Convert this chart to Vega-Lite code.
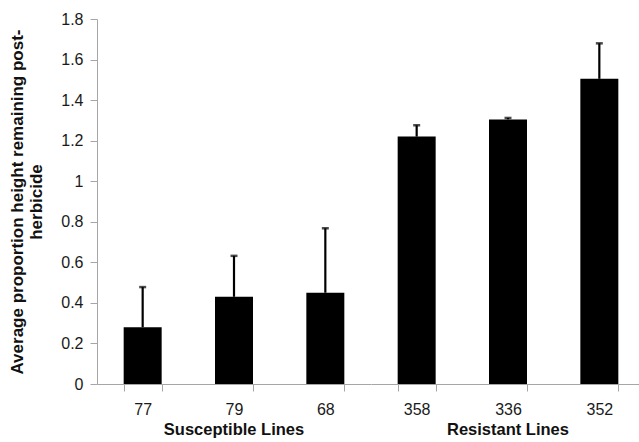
{
  "$schema": "https://vega.github.io/schema/vega-lite/v6.json",
  "padding": {"left": 8, "top": 11, "right": 0, "bottom": 0},
  "data": {
    "values": [
      {"line": "77", "group": "Susceptible Lines", "mean": 0.28, "upper": 0.478},
      {"line": "79", "group": "Susceptible Lines", "mean": 0.43, "upper": 0.632},
      {"line": "68", "group": "Susceptible Lines", "mean": 0.45, "upper": 0.768},
      {"line": "358", "group": "Resistant Lines", "mean": 1.22, "upper": 1.276},
      {"line": "336", "group": "Resistant Lines", "mean": 1.305, "upper": 1.312},
      {"line": "352", "group": "Resistant Lines", "mean": 1.505, "upper": 1.68}
    ]
  },
  "facet": {
    "column": {
      "field": "group",
      "type": "nominal",
      "sort": ["Susceptible Lines", "Resistant Lines"],
      "header": {
        "title": null,
        "labelOrient": "bottom",
        "labelFont": "Liberation Sans",
        "labelFontWeight": "bold",
        "labelFontSize": 16.5,
        "labelColor": "#111111",
        "labelPadding": 5
      }
    }
  },
  "spacing": 0,
  "resolve": {"scale": {"x": "independent"}},
  "spec": {
    "width": 274,
    "height": 365,
    "encoding": {
      "x": {
        "field": "line",
        "type": "nominal",
        "sort": null,
        "scale": {"paddingInner": 0.584, "paddingOuter": 0.292},
        "axis": {
          "title": null,
          "labelAngle": 0,
          "tickBand": "extent",
          "labelPadding": 10
        }
      }
    },
    "layer": [
      {
        "mark": {"type": "bar", "color": "#000000"},
        "encoding": {
          "y": {
            "field": "mean",
            "type": "quantitative",
            "scale": {"domain": [0, 1.8], "nice": false},
            "axis": {
              "values": [0, 0.2, 0.4, 0.6, 0.8, 1, 1.2, 1.4, 1.6, 1.8],
              "format": "~g",
              "grid": false,
              "title": ["Average proportion height remaining post-", "herbicide"],
              "titleFontWeight": "bold",
              "titleFontSize": 17,
              "titleColor": "#111111",
              "titlePadding": 15,
              "labelPadding": 7
            }
          }
        }
      },
      {
        "mark": {"type": "rule", "color": "#000000", "strokeWidth": 2.2},
        "encoding": {
          "y": {"field": "mean", "type": "quantitative"},
          "y2": {"field": "upper"}
        }
      },
      {
        "mark": {"type": "tick", "color": "#000000", "size": 7, "thickness": 2.5},
        "encoding": {
          "y": {"field": "upper", "type": "quantitative"}
        }
      }
    ]
  },
  "config": {
    "font": "Liberation Sans",
    "view": {"stroke": null},
    "axis": {
      "domainColor": "#a6a6a6",
      "tickColor": "#a6a6a6",
      "tickSize": 7,
      "labelFont": "Liberation Sans",
      "labelFontSize": 16,
      "labelColor": "#1a1a1a",
      "titleFont": "Liberation Sans"
    }
  }
}
